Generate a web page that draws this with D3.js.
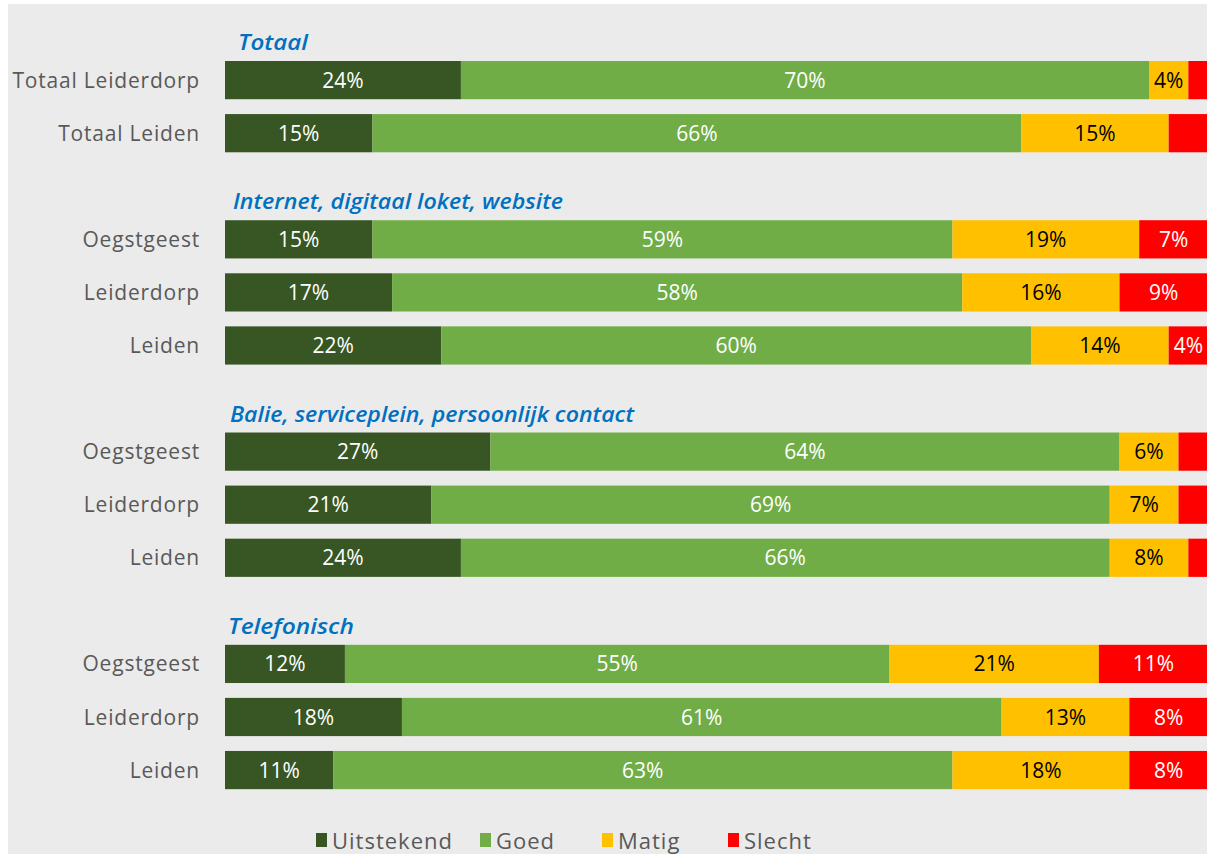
<!DOCTYPE html>
<html>
<head>
<meta charset="utf-8">
<script src="https://cdn.jsdelivr.net/npm/d3@7"></script>
<style>
  html, body { margin: 0; padding: 0; background: #fff; }
  svg { display: block; }
  text { font-family: "Open Sans", "Noto Sans", sans-serif; }
</style>
</head>
<body>
<svg id="chart"></svg>
<script>
// groups (section headers) and the rows that belong to them
const groups = ['Totaal', 'Internet, digitaal loket, website', 'Balie, serviceplein, persoonlijk contact', 'Telefonisch']
const rowGroup = [0, 0, 1, 1, 1, 2, 2, 2, 3, 3, 3]
const rowLabels = ['Totaal Leiderdorp', 'Totaal Leiden',
  'Oegstgeest', 'Leiderdorp', 'Leiden',
  'Oegstgeest', 'Leiderdorp', 'Leiden',
  'Oegstgeest', 'Leiderdorp', 'Leiden']

// series (percentages)
const seriesNames = ['Uitstekend', 'Goed', 'Matig', 'Slecht']
const uitstekend = [24, 15, 15, 17, 22, 27, 21, 24, 12.2, 18, 11]
const goed = [70, 66, 59, 58, 60, 64, 69, 66, 55.4, 61, 63]
const matig = [4, 15, 19, 16, 14, 6, 7, 8, 21.3, 13, 18]
const slecht = [2, 4, 7, 9, 4, 3, 3, 2, 11.1, 8, 8]
// which Slecht labels are visible in the original
const slechtLabelShown = [false, false, true, true, true, false, false, false, true, true, true]

const colors = ['#375623', '#70ad47', '#ffc000', '#ff0000']
const labelColors = ['#fff', '#fff', '#000', '#fff']

const width = 1207, height = 854
const margin = { left: 225 }

const svg = d3.select('#chart')
  .attr('width', width)
  .attr('height', height)

// background panel (white strip at top/left)
svg.append('rect')
  .attr('x', 8).attr('y', 4)
  .attr('width', width - 8).attr('height', height - 4)
  .attr('fill', '#ebebeb')

// slots: a header slot before each group, then its rows
const slots = []
groups.forEach((g, gi) => {
  slots.push('h' + gi)
  rowGroup.forEach((rg, i) => { if (rg === gi) slots.push('r' + i) })
})

const y = d3.scaleBand()
  .domain(slots)
  .range([0.5, 796.6])
  .paddingInner(0.28)
  .paddingOuter(0.14)

const x = d3.scaleLinear()
  .domain([0, 100])
  .range([margin.left, 1208])

const rows = rowLabels.map((label, i) => ({
  key: 'r' + i,
  label,
  values: [uitstekend[i], goed[i], matig[i], slecht[i]],
  showLast: slechtLabelShown[i]
}))

const stacked = []
rows.forEach(r => {
  let acc = 0
  r.values.forEach((v, si) => {
    stacked.push({ key: r.key, si, x0: acc, x1: acc + v, v, show: si < 3 || r.showLast })
    acc += v
  })
})

const chart = svg.append('g')

chart.selectAll('.bar')
  .data(stacked)
  .enter()
  .append('rect')
  .attr('class', 'bar')
  .attr('x', d => x(d.x0))
  .attr('y', d => y(d.key))
  .attr('width', d => x(d.x1) - x(d.x0))
  .attr('height', y.bandwidth())
  .attr('fill', d => colors[d.si])

chart.selectAll('.val')
  .data(stacked.filter(d => d.show))
  .enter()
  .append('text')
  .attr('class', 'val')
  .attr('x', d => x((d.x0 + d.x1) / 2))
  .attr('y', d => y(d.key) + y.bandwidth() / 2)
  .attr('dy', '0.36em')
  .attr('text-anchor', 'middle')
  .attr('font-size', 21)
  .attr('fill', d => labelColors[d.si])
  .text(d => Math.round(d.v) + '%')

// category labels
chart.selectAll('.cat')
  .data(rows)
  .enter()
  .append('text')
  .attr('class', 'cat')
  .attr('x', 200)
  .attr('y', d => y(d.key) + y.bandwidth() / 2)
  .attr('dy', '0.36em')
  .attr('text-anchor', 'end')
  .attr('font-size', 21)
  .attr('letter-spacing', 0.8)
  .attr('fill', '#595959')
  .text(d => d.label)

// group headers
const headerX = [238, 233, 230, 228]
const headerW = [70, 330, 404, 126]
chart.selectAll('.hdr')
  .data(groups)
  .enter()
  .append('text')
  .attr('class', 'hdr')
  .attr('x', (d, i) => headerX[i])
  .attr('y', (d, i) => y('h' + i) + y.bandwidth() / 2 + 23)
  .attr('font-size', 22)
  .attr('font-style', 'italic')
  .attr('font-weight', 600)
  .attr('fill', '#0070c0')
  .attr('textLength', (d, i) => headerW[i])
  .attr('lengthAdjust', 'spacingAndGlyphs')
  .text(d => d)

// legend
const legendX = [316, 480, 602, 728]
const legend = svg.append('g')
  .selectAll('g')
  .data(seriesNames)
  .enter()
  .append('g')
  .attr('transform', (d, i) => `translate(${legendX[i]}, 833)`)

legend.append('rect')
  .attr('width', 11)
  .attr('height', 14)
  .attr('fill', (d, i) => colors[i])

legend.append('text')
  .attr('x', 16)
  .attr('y', 16)
  .attr('font-size', 22)
  .attr('letter-spacing', 1)
  .attr('fill', '#595959')
  .text(d => d)
</script>
</body>
</html>
